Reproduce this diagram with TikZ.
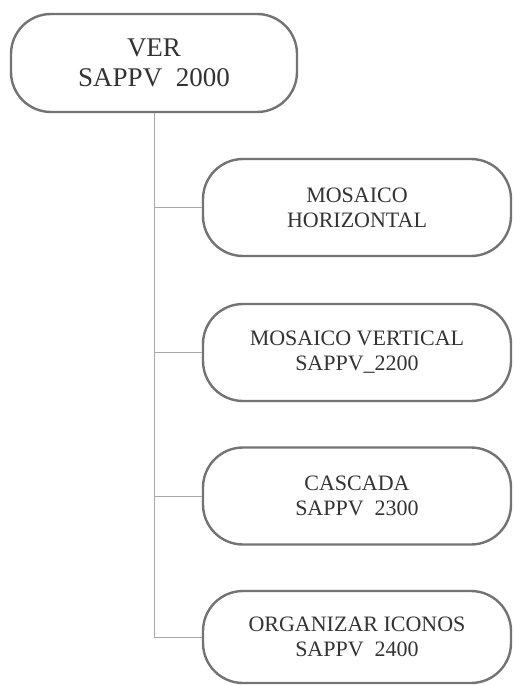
\documentclass[tikz,border=0pt]{standalone}
\usepackage{fontspec}
\setmainfont{Liberation Serif}
\begin{document}
\begin{tikzpicture}[x=1pt,y=-1pt,
  box/.style={draw=black!55, line width=2.4pt, rounded corners=40pt, fill=white,
    align=center, text=black!80, inner sep=0pt},
  topbox/.style={box, minimum width=286pt, minimum height=98pt, font=\fontsize{27}{30}\selectfont},
  childbox/.style={box, minimum width=308pt, minimum height=97pt, font=\fontsize{22}{25}\selectfont},
  conn/.style={draw=black!35, line width=0.8pt}]
\useasboundingbox (0,0) rectangle (514,685);
\node[topbox] (top) at (154,63) {VER\\SAPPV\ \ 2000};
\node[childbox] (c1) at (357,207.5) {MOSAICO\\HORIZONTAL};
\node[childbox] (c2) at (357,352.5) {MOSAICO VERTICAL\\SAPPV\_2200};
\node[childbox] (c3) at (357,496) {CASCADA\\SAPPV\ \ 2300};
\node[childbox, minimum height=92pt] (c4) at (357,637) {ORGANIZAR ICONOS\\SAPPV\ \ 2400};
\foreach \c in {c1,c2,c3,c4}{
  \draw[conn] (top.south) |- (\c.west);
}
\end{tikzpicture}
\end{document}
